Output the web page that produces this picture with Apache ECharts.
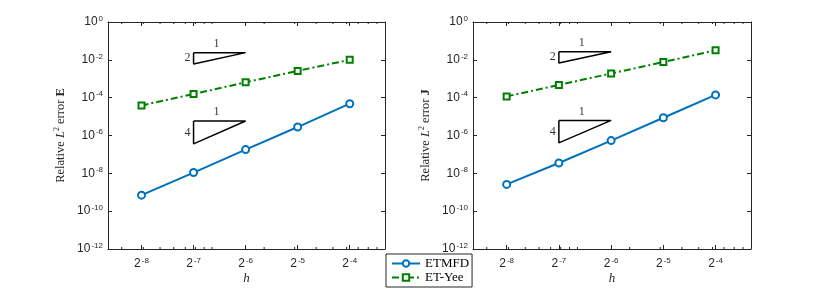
<!DOCTYPE html>
<html>
<head>
<meta charset="utf-8">
<script src="https://cdn.jsdelivr.net/npm/echarts@6/dist/echarts.min.js"></script>
<style>html,body{margin:0;padding:0;background:#fff}#c{width:830px;height:291px}</style>
</head>
<body>
<div id="c"></div>
<script>
// ---- data ----
const hValues = [0.00390625, 0.0078125, 0.015625, 0.03125, 0.0625]; // 2^-8 .. 2^-4
const etmfdE = [7.0e-10, 1.1e-8, 1.8e-7, 2.8e-6, 4.8e-5];
const etyeeE = [3.9e-5, 1.55e-4, 6.5e-4, 2.6e-3, 1.0e-2];
const etmfdJ = [2.6e-9, 3.5e-8, 5.4e-7, 8.7e-6, 1.4e-4];
const etyeeJ = [1.17e-4, 4.7e-4, 1.9e-3, 7.6e-3, 3.2e-2];
const seriesNames = ['ETMFD', 'ET-Yee'];
// slope triangles: x extent and top / bottom values (rate 2, rate 4)
const triH = [0.0078125, 0.015625];
const triTopE = [0.024, 5.8e-6];
const triBotE = [0.006, 3.6e-7];
const triTopJ = [0.027, 6.3e-6];
const triBotJ = [0.0068, 4.1e-7];
const triRates = ['2', '4'];
const triRun = '1';
const triRunH = 0.0106;
// axis ranges and minor ticks
const xRange = [0.0025, 0.1];
const yRange = [1e-12, 1];
const xMinorTicks = [0.003,0.004,0.005,0.006,0.007,0.008,0.009,0.01,0.02,0.03,0.04,0.05,0.06,0.07,0.08,0.09];
const yLabels = ['Relative {i|L}{s|2} error {b|E}', 'Relative {i|L}{s|2} error {b|J}'];
const xName = 'h';

// ---- style ----
const AX = '#262626';
const SANS = 'Liberation Sans, Arial, sans-serif';
const SERIF = 'Liberation Serif, Times New Roman, serif';
const BLUE = '#0072BD';
const GREEN = '#008000';
const grids = [
  {left: 108, top: 22, width: 277, height: 227},
  {left: 473, top: 22, width: 278, height: 227}
];

function xFmt(v) {
  const e = Math.log2(v);
  const r = Math.round(e);
  if (Math.abs(e - r) > 1e-6) return '';
  return '{b|2}{s|' + r + '}';
}
function yFmt(v) {
  const e = Math.log10(v);
  const r = Math.round(e);
  if (Math.abs(e - r) > 1e-6) return '';
  return '{b|10}{s|' + r + '}';
}
const tickRich = {
  b: {fontFamily: SANS, fontSize: 12, color: AX, lineHeight: 14},
  s: {fontFamily: SANS, fontSize: 8, color: AX, lineHeight: 8, padding: [0, 0, 7, 1]}
};

const xAxes = [], yAxes = [], series = [];
[0, 1].forEach(g => {
  const base = {
    type: 'log', logBase: 2, min: xRange[0], max: xRange[1], gridIndex: g,
    axisLine: {show: true, lineStyle: {color: AX, width: 1}},
    axisTick: {show: true, inside: true, length: 4, lineStyle: {color: AX, width: 1}},
    splitLine: {show: false}
  };
  xAxes.push(Object.assign({}, base, {
    position: 'bottom',
    axisLabel: {formatter: xFmt, rich: tickRich, margin: 8, showMinLabel: false, showMaxLabel: false},
    name: xName, nameLocation: 'middle', nameGap: 23, nameMoveOverlap: false,
    nameTextStyle: {fontFamily: SERIF, fontStyle: 'italic', fontSize: 13, color: AX}
  }));
  xAxes.push(Object.assign({}, base, {position: 'top', axisLabel: {show: false}}));
  const ybase = {
    type: 'log', logBase: 10, min: yRange[0], max: yRange[1], interval: 2, gridIndex: g,
    axisLine: {show: true, lineStyle: {color: AX, width: 1}},
    axisTick: {show: true, inside: true, length: 4, lineStyle: {color: AX, width: 1}},
    splitLine: {show: false}
  };
  yAxes.push(Object.assign({}, ybase, {
    position: 'left',
    axisLabel: {formatter: yFmt, rich: tickRich, margin: 5},
    name: yLabels[g], nameLocation: 'middle', nameGap: 40, nameMoveOverlap: false,
    nameTextStyle: {
      fontFamily: SERIF, fontSize: 12.5, color: AX,
      rich: {
        i: {fontFamily: SERIF, fontSize: 12.5, fontStyle: 'italic', color: AX},
        s: {fontFamily: SERIF, fontSize: 8, color: AX, padding: [0, 0, 7, 0]},
        b: {fontFamily: SERIF, fontSize: 12.5, fontWeight: 'bold', color: AX}
      }
    }
  }));
  yAxes.push(Object.assign({}, ybase, {position: 'right', axisLabel: {show: false}}));
});

function pairs(xs, ys) { return xs.map((x, i) => [x, ys[i]]); }

const data = [[etmfdE, etyeeE], [etmfdJ, etyeeJ]];
const triTops = [triTopE, triTopJ], triBots = [triBotE, triBotJ];

[0, 1].forEach(g => {
  const xi = g * 2, yi = g * 2;
  series.push({
    name: seriesNames[0], type: 'line', xAxisIndex: xi, yAxisIndex: yi,
    data: pairs(hValues, data[g][0]),
    symbol: 'circle', symbolSize: 7,
    lineStyle: {color: BLUE, width: 2},
    itemStyle: {color: '#fff', borderColor: BLUE, borderWidth: 2},
    z: 3
  });
  series.push({
    name: seriesNames[1], type: 'line', xAxisIndex: xi, yAxisIndex: yi,
    data: pairs(hValues, data[g][1]),
    symbol: 'rect', symbolSize: 6,
    lineStyle: {color: GREEN, width: 2, type: [7, 3, 2, 3]},
    itemStyle: {color: '#fff', borderColor: GREEN, borderWidth: 2},
    z: 3
  });
  // slope triangles
  [0, 1].forEach(k => {
    const top = triTops[g][k], bot = triBots[g][k];
    series.push({
      type: 'line', xAxisIndex: xi, yAxisIndex: yi, silent: true,
      data: [[triH[0], top], [triH[1], top], [triH[0], bot], [triH[0], top]],
      symbol: 'none', lineStyle: {color: '#000', width: 1.5}, z: 2
    });
    series.push({
      type: 'scatter', xAxisIndex: xi, yAxisIndex: yi, silent: true,
      symbolSize: 0,
      data: [
        {value: [triRunH, top], name: triRun, label: {position: 'top', distance: 3}},
        {value: [triH[0], Math.sqrt(top * bot)], name: triRates[k], label: {position: 'left', distance: 3}}
      ],
      label: {show: true, formatter: p => p.name, fontFamily: SERIF, fontSize: 12, color: '#000'},
      z: 2
    });
  });
  // minor ticks on the x axis (bottom and top)
  series.push({
    type: 'custom', xAxisIndex: xi, yAxisIndex: yi, silent: true,
    data: xMinorTicks.map(v => [v, yRange[0]]),
    renderItem: function (params, api) {
      const pb = api.coord([api.value(0), yRange[0]]);
      const pt = api.coord([api.value(0), yRange[1]]);
      const st = {stroke: AX, lineWidth: 1};
      return {type: 'group', children: [
        {type: 'line', shape: {x1: pb[0], y1: pb[1], x2: pb[0], y2: pb[1] - 2}, style: st},
        {type: 'line', shape: {x1: pt[0], y1: pt[1], x2: pt[0], y2: pt[1] + 2}, style: st}
      ]};
    },
    z: 1
  });
});

const chart = echarts.init(document.getElementById('c'), null, {renderer: 'canvas'});
chart.setOption({
  animation: false,
  backgroundColor: '#fff',
  grid: grids.map(g => Object.assign({containLabel: false, outerBoundsMode: 'none'}, g)),
  xAxis: xAxes,
  yAxis: yAxes,
  legend: {
    data: seriesNames, orient: 'vertical', left: 386, top: 254,
    backgroundColor: '#fff', borderColor: AX, borderWidth: 1, borderRadius: 0,
    padding: [3, 3, 3, 5], itemGap: 1, itemWidth: 28, itemHeight: 8,
    textStyle: {fontFamily: SERIF, fontSize: 13, color: '#000', lineHeight: 13}
  },
  series: series
});
</script>
</body>
</html>
